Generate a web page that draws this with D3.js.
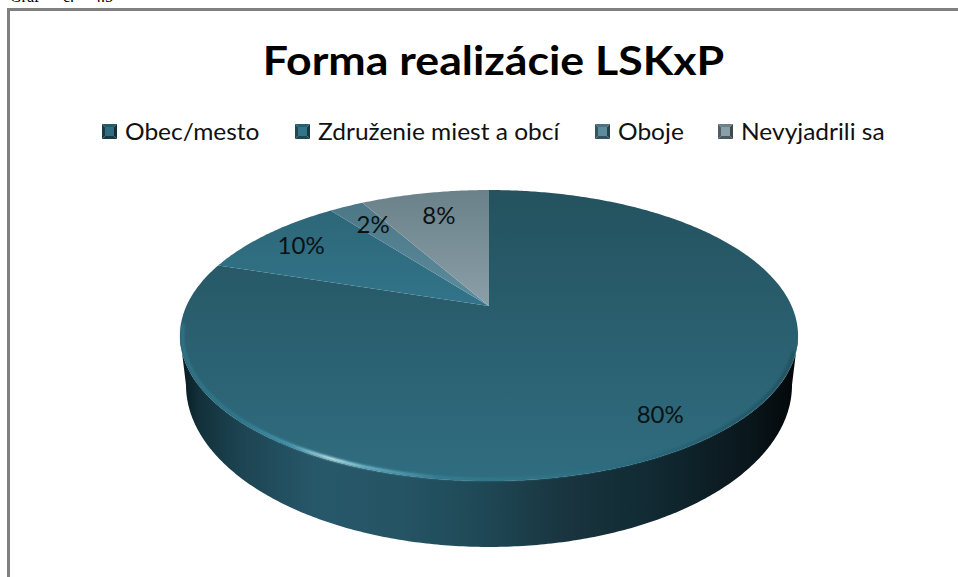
<!DOCTYPE html>
<html><head><meta charset="utf-8">
<script src="https://cdn.jsdelivr.net/npm/d3@7/dist/d3.min.js"></script>
<style>html,body{margin:0;padding:0;background:#fff}svg{display:block}</style>
</head><body><svg id="c" width="958" height="577"></svg>
<script>
const captionText = ["Graf","č.","4.5"];
const titleText = "Forma realizácie LSKxP";
const categories = ["Obec/mesto","Združenie miest a obcí","Oboje","Nevyjadrili sa"];
const values = [80.0, 9.6, 2.2, 8.2];
const colorsTop = ["#24525f","#2c6474","#4a7484","#6b8189"];
const colorsBottom = ["#306d80","#32748a","#5d8d9d","#8a9fa8"];
const legendX = [102,295,595,718];
const captionX = [10,63,93];
const labelOffset = [[0.487,-0.685],[-0.678,0.454],[-0.433,0.64],[-0.19,0.724]];

const W=958,H=577;
const svg=d3.select("#c");
const defs=svg.append("defs");

// perspective projection of the unit disc
const cx=489, cy=306, R=302.6, S=139.5, k=0.203;
const proj=(u,v,r=R,s=S,dy=0)=>{const w=1+k*v;return [cx+r*u/w, cy+dy-s*v/w];};
const pol=(a,f=1)=>[Math.sin(a)*f,Math.cos(a)*f];
const angles=d3.pie().sort(null).value(d=>d)(values);
const total=d3.sum(values);
const pct=d3.format(".0%");

function arcPts(a0,a1,f=1,r=R,s=S,dy=0){
  const n=Math.max(2,Math.ceil(Math.abs(a1-a0)/0.01));
  return d3.range(n+1).map(i=>{const a=a0+(a1-a0)*i/n;const[p,q]=pol(a,f);return proj(p,q,r,s,dy);});
}
const line=d3.line().curve(d3.curveLinear);

// frame
svg.append("path").attr("d","M8.5,577V9.5H958").attr("fill","none").attr("stroke","#808080").attr("stroke-width",3);

// caption cropped by the page top
svg.append("g").selectAll("text").data(captionText).join("text")
  .attr("x",(d,i)=>captionX[i]).attr("y",2).attr("font-family","Liberation Serif").attr("font-size",16).attr("fill","#000").text(d=>d);

// title
svg.append("text").attr("transform","translate(493.5,75) scale(1.117,1)").attr("text-anchor","middle")
  .attr("font-family","Lato").attr("font-weight",700).attr("font-size",40).attr("fill","#000").text(titleText);

// gradients
categories.forEach((c,i)=>{
  const g=defs.append("linearGradient").attr("id","top"+i).attr("gradientUnits","userSpaceOnUse")
    .attr("x1",0).attr("x2",0).attr("y1",190).attr("y2",i==0?481:306);
  g.append("stop").attr("offset",0).attr("stop-color",colorsTop[i]);
  g.append("stop").attr("offset",1).attr("stop-color",colorsBottom[i]);
});
const side=defs.append("linearGradient").attr("id","side").attr("gradientUnits","userSpaceOnUse")
  .attr("x1",180).attr("x2",798).attr("y1",0).attr("y2",0);
[[0,"#07181e"],[0.03,"#12303a"],[0.1,"#1d4452"],[0.22,"#27586a"],[0.36,"#255464"],[0.48,"#1f4957"],[0.62,"#19353f"],[0.76,"#112a33"],[0.92,"#0a171c"],[1,"#020608"]]
  .forEach(s=>side.append("stop").attr("offset",s[0]).attr("stop-color",s[1]));
const rim=defs.append("linearGradient").attr("id","rim").attr("gradientUnits","userSpaceOnUse")
  .attr("x1",180).attr("x2",798).attr("y1",0).attr("y2",0);
[[0,"#2f7488"],[0.1,"#317a90"],[0.18,"#4aa0b8"],[0.245,"#c8f2f8"],[0.30,"#6fbccf"],[0.42,"#357f95"],[0.7,"#2c6c80"],[1,"#1f4f5e"]]
  .forEach(s=>rim.append("stop").attr("offset",s[0]).attr("stop-color",s[1]));
defs.append("filter").attr("id","blur").attr("x","-5%").attr("y","-20%").attr("width","110%").attr("height","140%")
  .append("feGaussianBlur").attr("stdDeviation",1.1);

// side wall: front half between upper rim and lower rim
const a0=Math.PI*0.5+Math.asin(k), a1=Math.PI*1.5-Math.asin(k);
const upper=arcPts(a0,a1);
const lower=arcPts(a1,a0,1,296.7,155.3,46.1);
svg.append("path").attr("d",line(upper.concat(lower))+"Z").attr("fill","url(#side)");

// top faces
svg.append("g").selectAll("path").data(angles).join("path")
  .attr("d",d=>line([proj(0,0)].concat(arcPts(d.startAngle,d.endAngle)))+"Z")
  .attr("fill",(d,i)=>`url(#top${i})`);

// bevel highlight along the front rim
svg.append("path").attr("d",line(arcPts(Math.PI*0.6,Math.PI*1.46,0.992))).attr("fill","none")
  .attr("stroke","url(#rim)").attr("stroke-width",3).attr("filter","url(#blur)");

// slice labels
svg.append("g").selectAll("text").data(angles).join("text")
  .attr("transform",(d,i)=>{const p=proj(...labelOffset[i]);return `translate(${p[0]},${p[1]})`;})
  .attr("text-anchor","middle").attr("dominant-baseline","middle")
  .attr("font-family","Lato").attr("font-size",24).attr("fill","#0a1214")
  .text(d=>pct(d.value/total));

// legend
const leg=svg.append("g").selectAll("g").data(categories).join("g")
  .attr("transform",(d,i)=>`translate(${legendX[i]},124)`);
const m=15,b=3;
const tris=[
  {pts:[[0,0],[m,0],[m-b,b],[b,b]],f:(i)=>d3.color(colorsBottom[i]).darker(0.6)},
  {pts:[[0,0],[b,b],[b,m-b],[0,m]],f:(i)=>d3.color(colorsTop[i]).darker(0.9)},
  {pts:[[m,0],[m,m],[m-b,m-b],[m-b,b]],f:(i)=>d3.color(colorsTop[i]).darker(1.6)},
  {pts:[[0,m],[m,m],[m-b,m-b],[b,m-b]],f:(i)=>d3.color(colorsTop[i]).darker(1.0)},
  {pts:[[b,b],[m-b,b],[m-b,m-b],[b,m-b]],f:(i)=>d3.color(colorsBottom[i])}
];
leg.each(function(d,i){
  const g=d3.select(this);
  tris.forEach(t=>g.append("polygon").attr("points",t.pts.join(" ")).attr("fill",t.f(i)));
  g.append("text").attr("transform",`translate(${m+8},${m+0.5}) scale(1.09,1)`).attr("font-family","Lato").attr("font-size",22.5).attr("fill","#111").text(d);
});
</script></body></html>
